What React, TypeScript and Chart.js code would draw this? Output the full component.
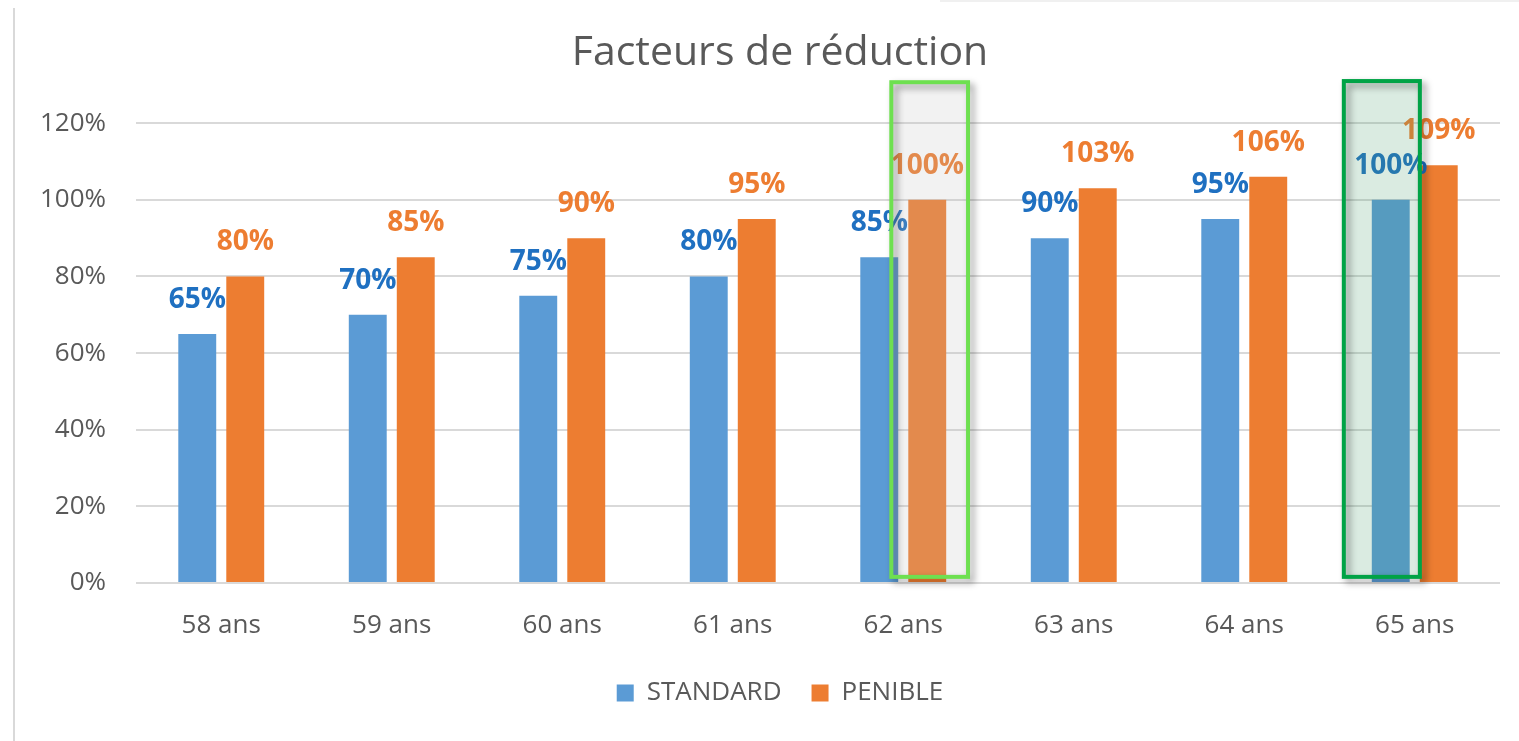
import React, { useEffect, useRef } from "react";
import { Chart, registerables } from "chart.js";

Chart.register(...registerables);

const chartTitle = "Facteurs de réduction";
const categories = ["58 ans", "59 ans", "60 ans", "61 ans", "62 ans", "63 ans", "64 ans", "65 ans"];
const seriesNames = ["STANDARD", "PENIBLE"];
const standardValues = [65, 70, 75, 80, 85, 90, 95, 100];
const penibleValues = [80, 85, 90, 95, 100, 103, 106, 109];
const yTickValues = [0, 20, 40, 60, 80, 100, 120];

const barColors = ["#5B9BD5", "#ED7D31"];
const labelColors = ["#1F70C1", "#ED7D31"];
const FONT = "'Open Sans', 'Noto Sans', sans-serif";

// highlight frames: category index, horizontal extent in category units, vertical extent in value units
const highlights = [
  { index: 4, from: -0.07, to: 0.38, top: 130.7, bottom: 1.6, stroke: "#6EE050", fill: "rgba(190,190,190,0.2)" },
  { index: 7, from: -0.416, to: 0.03, top: 131, bottom: 1.6, stroke: "#00A346", fill: "rgba(70,155,105,0.2)" },
];

const overlayPlugin = {
  id: "overlayPlugin",
  afterLayout(chart: any) {
    // let the y tick labels extend into the left padding without being clipped
    chart.scales.y.left = 0;
  },
  afterDatasetsDraw(chart: any) {
    const ctx = chart.ctx;
    ctx.save();
    ctx.font = `bold 28px ${FONT}`;
    ctx.textAlign = "center";
    ctx.textBaseline = "alphabetic";
    chart.data.datasets.forEach((ds: any, di: number) => {
      const meta = chart.getDatasetMeta(di);
      meta.data.forEach((bar: any, i: number) => {
        ctx.fillStyle = labelColors[di];
        ctx.fillText(`${ds.data[i]}%`, bar.x, bar.y - 26);
      });
    });
    const xs = chart.scales.x;
    const ys = chart.scales.y;
    highlights.forEach((h) => {
      const x1 = xs.getPixelForValue(h.index + h.from);
      const x2 = xs.getPixelForValue(h.index + h.to);
      const y1 = ys.getPixelForValue(h.top);
      const y2 = ys.getPixelForValue(h.bottom);
      ctx.fillStyle = h.fill;
      ctx.fillRect(x1, y1, x2 - x1, y2 - y1);
      ctx.save();
      ctx.shadowColor = "rgba(0,0,0,0.4)";
      ctx.shadowBlur = 7;
      ctx.shadowOffsetX = 4;
      ctx.shadowOffsetY = 4;
      ctx.lineWidth = 4;
      ctx.strokeStyle = h.stroke;
      ctx.strokeRect(x1, y1, x2 - x1, y2 - y1);
      ctx.restore();
    });
    ctx.restore();
  },
};

export default function App() {
  const canvasRef = useRef<HTMLCanvasElement | null>(null);

  useEffect(() => {
    if (!canvasRef.current) return;
    const chart = new Chart(canvasRef.current, {
      type: "bar",
      data: {
        labels: categories,
        datasets: [
          {
            label: seriesNames[0],
            data: standardValues,
            backgroundColor: barColors[0],
            borderWidth: 0,
            categoryPercentage: 0.563,
            barPercentage: 0.79,
          },
          {
            label: seriesNames[1],
            data: penibleValues,
            backgroundColor: barColors[1],
            borderWidth: 0,
            categoryPercentage: 0.563,
            barPercentage: 0.79,
          },
        ],
      },
      options: {
        responsive: false,
        animation: false,
        devicePixelRatio: 1,
        layout: { padding: { left: 60, right: 19, top: 0, bottom: 25 } },
        plugins: {
          title: {
            display: true,
            text: chartTitle,
            color: "#595959",
            font: { family: FONT, size: 41, weight: "normal" },
            padding: { top: 29, bottom: 45 },
          },
          legend: {
            position: "bottom",
            labels: {
              boxWidth: 17,
              boxHeight: 17,
              padding: 30,
              color: "#595959",
              font: { family: FONT, size: 26 },
            },
          },
          tooltip: { enabled: false },
        },
        scales: {
          x: {
            grid: { display: false, drawTicks: false },
            border: { display: false },
            ticks: { color: "#595959", font: { family: FONT, size: 26 }, padding: 27 },
            afterFit: (scale: any) => {
              scale.height = 67;
            },
          },
          y: {
            min: 0,
            max: 120,
            afterBuildTicks: (scale: any) => {
              scale.ticks = yTickValues.map((v) => ({ value: v }));
            },
            grid: { color: "#D9D9D9", lineWidth: 2, drawTicks: false },
            border: { display: false },
            ticks: {
              color: "#595959",
              font: { family: FONT, size: 26 },
              padding: 30,
              callback: (v: any) => `${v}%`,
            },
            afterFit: (scale: any) => {
              scale.width = 76;
            },
          },
        },
      },
      plugins: [overlayPlugin],
    });
    return () => chart.destroy();
  }, []);

  return (
    <div style={{ position: "fixed", left: 0, top: 0, width: 1519, height: 741, background: "#fff" }}>
      <div style={{ position: "absolute", left: 13, top: 8, width: 2, height: 733, background: "#D9D9D9" }} />
      <div style={{ position: "absolute", left: 940, top: 0, width: 579, height: 2, background: "#F0F0F0" }} />
      <canvas ref={canvasRef} width={1519} height={741} style={{ position: "absolute", left: 0, top: 0 }} />
    </div>
  );
}
